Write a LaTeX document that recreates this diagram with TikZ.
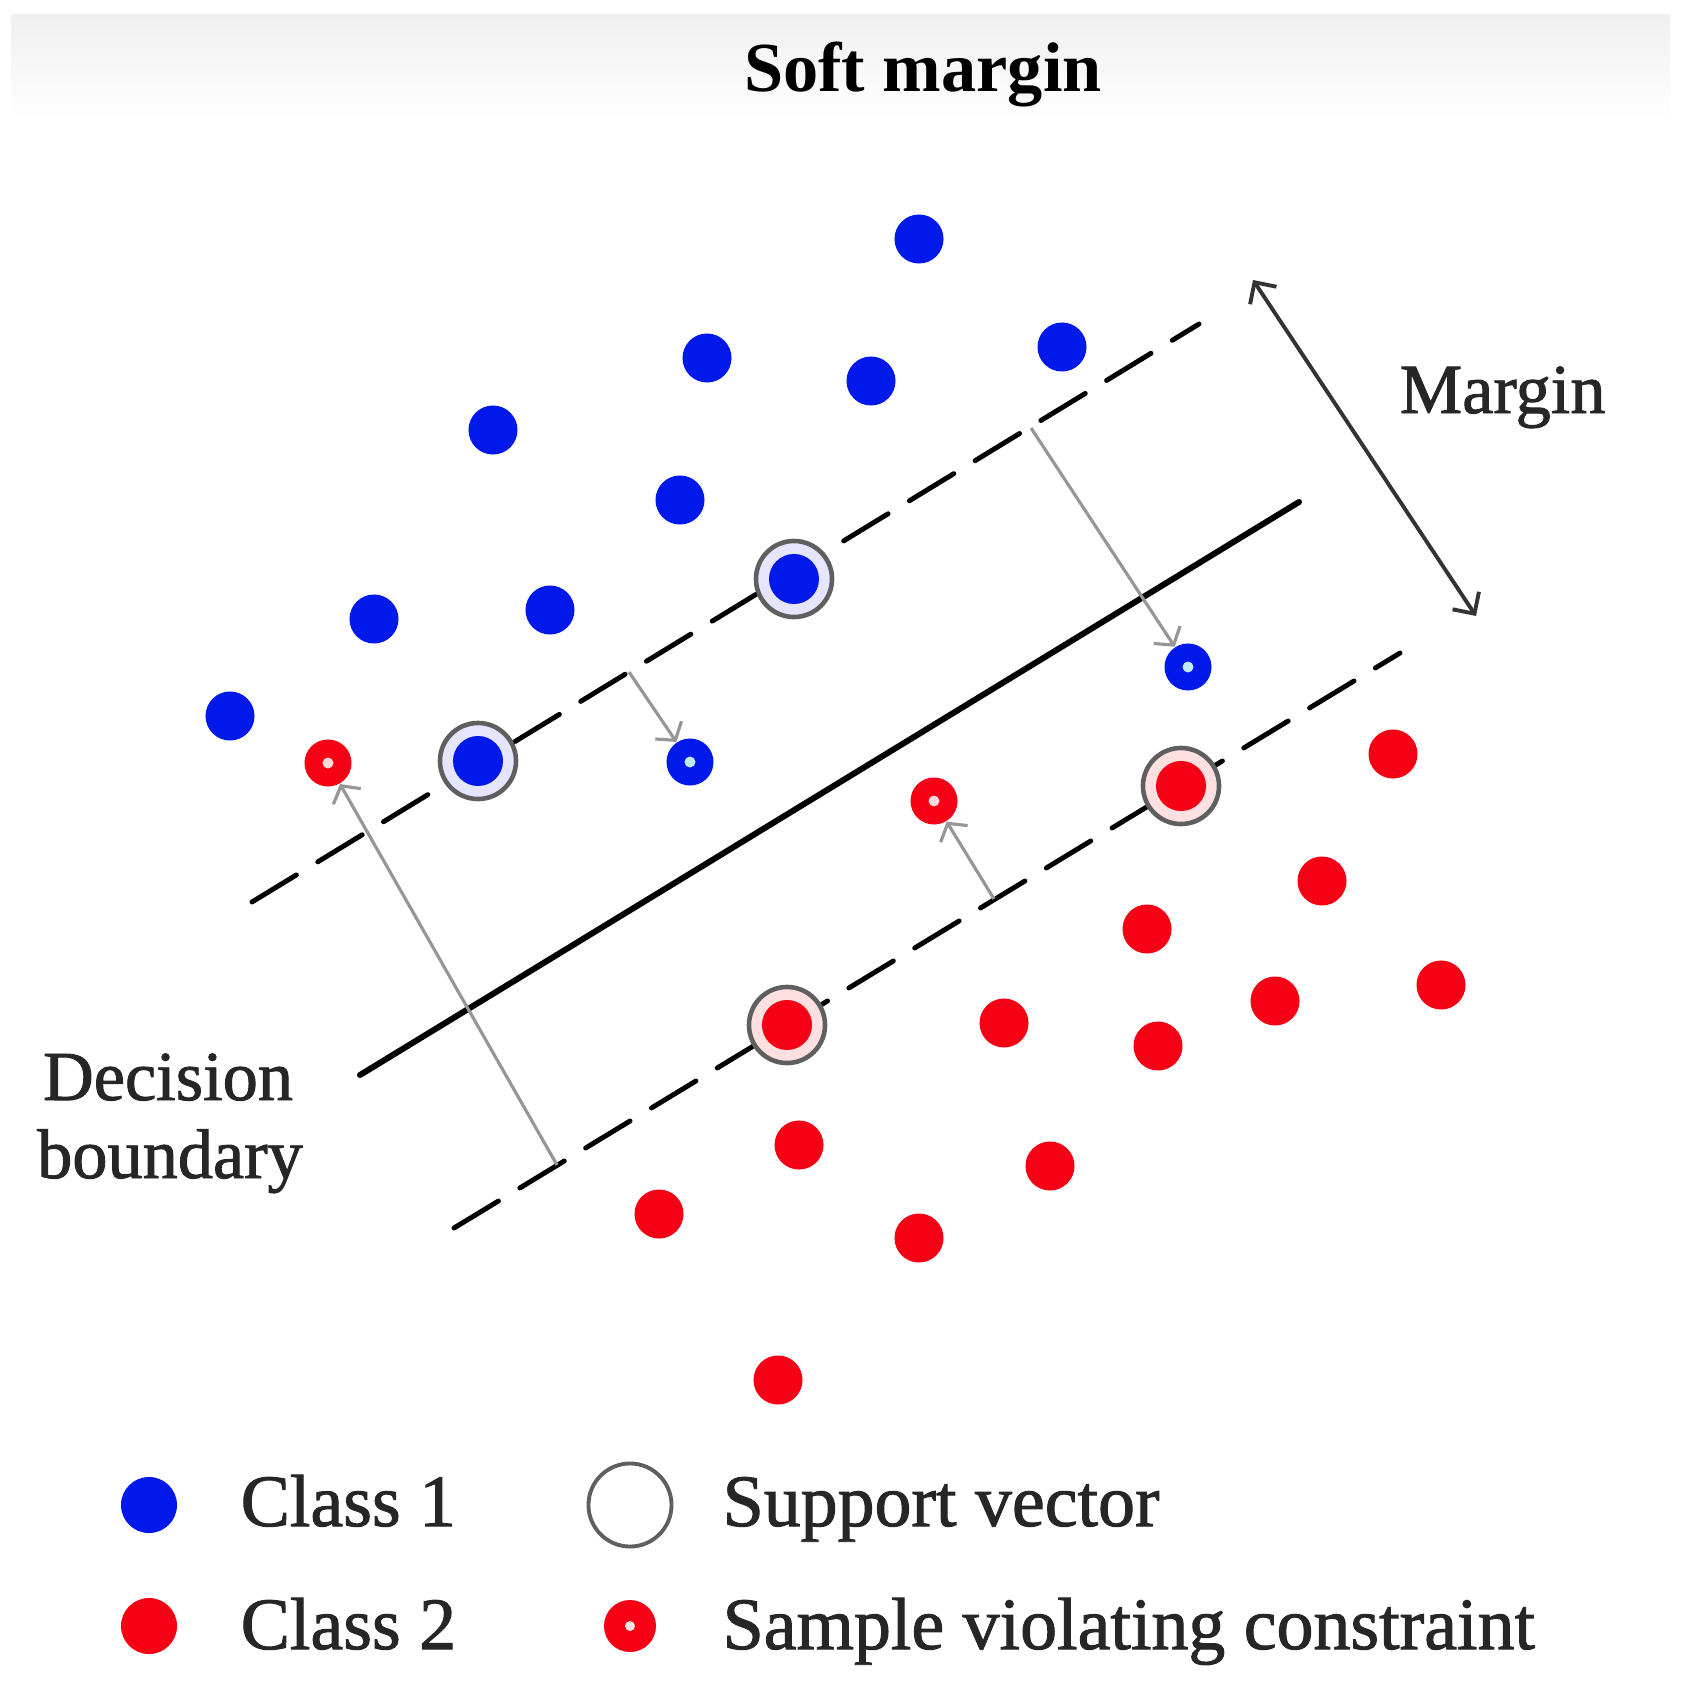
\documentclass[tikz,border=0pt]{standalone}
\usepackage{fontspec}
\setmainfont{Liberation Serif}
\newfontfamily\labfont[FakeBold=1.3]{Liberation Serif}
\usetikzlibrary{arrows.meta}
\definecolor{cblue}{RGB}{0,25,235}
\definecolor{cred}{RGB}{245,0,20}
\definecolor{svgray}{RGB}{95,95,95}
\definecolor{arrgray}{RGB}{150,150,150}
\begin{document}
\begin{tikzpicture}[x=0.01cm,y=-0.01cm,
  dot/.style={circle,inner sep=0pt,minimum size=0.49cm},
  bdot/.style={dot,fill=cblue},
  rdot/.style={dot,fill=cred},
  bviol/.style={dot,fill=cblue,minimum size=0.47cm,
    path picture={\fill[cyan!25] (path picture bounding box.center) circle (0.055cm);}},
  rviol/.style={dot,fill=cred,minimum size=0.47cm,
    path picture={\fill[red!15] (path picture bounding box.center) circle (0.055cm);}},
  bsv/.style={circle,inner sep=0pt,minimum size=0.76cm,draw=svgray,line width=1.3pt,fill=blue!10,
    path picture={\fill[cblue] (path picture bounding box.center) circle (0.25cm);}},
  rsv/.style={circle,inner sep=0pt,minimum size=0.76cm,draw=svgray,line width=1.3pt,fill=red!12,
    path picture={\fill[cred] (path picture bounding box.center) circle (0.25cm);}},
  marginline/.style={line width=1.4pt,dash pattern=on 14.8pt off 7.1pt,line cap=round},
  boundline/.style={line width=1.7pt,line cap=round},
  garrow/.style={arrgray,line width=0.9pt,-{Straight Barb[length=3.5pt,width=9pt]}},
  marrow/.style={black!80,line width=1.1pt,{Straight Barb[length=4.5pt,width=9pt]}-{Straight Barb[length=4.5pt,width=9pt]}},
  lbl/.style={inner sep=0pt,font=\labfont\fontsize{20pt}{24pt}\selectfont,text=black!85},
  leg/.style={inner sep=0pt,anchor=base west,font=\labfont\fontsize{21pt}{25pt}\selectfont,text=black!85}
]
\useasboundingbox (0,0) rectangle (1686,1694);
\fill[white] (0,0) rectangle (1686,1694);
\shade[top color=gray!12,bottom color=white] (11,15) rectangle (1670,120);

% title
\node[inner sep=0pt,anchor=base,font=\fontsize{20pt}{24pt}\selectfont\bfseries,text=black] (title) at (923,92) {Soft margin};

% lines
\coordinate (u1) at (252,902); \coordinate (u2) at (1199,324);
\coordinate (c1) at (360,1075); \coordinate (c2) at (1299,502);
\coordinate (l1) at (454,1228); \coordinate (l2) at (1400,653);
\draw[marginline] (u1) -- (u2);
\draw[boundline] (c1) -- (c2);
\draw[marginline] (l1) -- (l2);

% blue points
\node[bdot] (b1) at (919,239) {};
\node[bdot] (b2) at (707,358) {};
\node[bdot] (b3) at (871,381) {};
\node[bdot] (b4) at (1062,347) {};
\node[bdot] (b5) at (493,430) {};
\node[bdot] (b6) at (680,500) {};
\node[bdot] (b7) at (374,619) {};
\node[bdot] (b8) at (550,610) {};
\node[bdot] (b9) at (230,716) {};
\node[bsv] (sb1) at (794,579) {};
\node[bsv] (sb2) at (478,761) {};
\node[bviol] (vb1) at (690,762) {};
\node[bviol] (vb2) at (1188,667) {};

% red points
\node[rdot] (r1) at (1393,754) {};
\node[rdot] (r2) at (1322,881) {};
\node[rdot] (r3) at (1147,929) {};
\node[rdot] (r4) at (1275,1001) {};
\node[rdot] (r5) at (1441,985) {};
\node[rdot] (r6) at (1004,1023) {};
\node[rdot] (r7) at (1158,1046) {};
\node[rdot] (r8) at (799,1145) {};
\node[rdot] (r9) at (1050,1166) {};
\node[rdot] (r10) at (659,1214) {};
\node[rdot] (r11) at (919,1238) {};
\node[rdot] (r12) at (778,1380) {};
\node[rsv] (sr1) at (1181,786) {};
\node[rsv] (sr2) at (787,1025) {};
\node[rviol] (vr1) at (328,763) {};
\node[rviol] (vr2) at (934,801) {};

% slack arrows
\coordinate (s1) at (1031,428);
\coordinate (s2) at (629,672);
\coordinate (s3) at (557,1165);
\coordinate (s4) at (994,899);
\draw[garrow] (s1) -- (vb2);
\draw[garrow] (s2) -- (vb1);
\draw[garrow] (s3) -- (vr1);
\draw[garrow] (s4) -- (vr2);

% margin arrow
\coordinate (m1) at (1253,280);
\coordinate (m2) at (1476,616);
\draw[marrow] (m1) -- (m2);
\node[lbl,anchor=base west] (mlabel) at (1399,413) {Margin};

% decision boundary label
\node[lbl,anchor=base] (dec1) at (168,1100) {Decision};
\node[lbl,anchor=base] (dec2) at (170,1178) {boundary};

% legend
\node[dot,fill=cblue,minimum width=0.53cm,minimum height=0.56cm] (lb) at (149,1505) {};
\node[leg] (lbt) at (240,1526) {Class 1};
\node[circle,inner sep=0pt,minimum width=0.78cm,minimum height=0.83cm,draw=svgray,line width=1.1pt] (lsv) at (630,1505) {};
\node[leg] (lsvt) at (722,1526) {Support vector};
\node[dot,fill=cred,minimum width=0.53cm,minimum height=0.56cm] (lr) at (149,1626) {};
\node[leg] (lrt) at (240,1649) {Class 2};
\node[dot,fill=cred,minimum width=0.46cm,minimum height=0.52cm,
  path picture={\fill[red!10] (path picture bounding box.center) circle (0.05cm);}] (lv) at (630,1626) {};
\node[leg] (lvt) at (722,1649) {Sample violating constraint};
\end{tikzpicture}
\end{document}
